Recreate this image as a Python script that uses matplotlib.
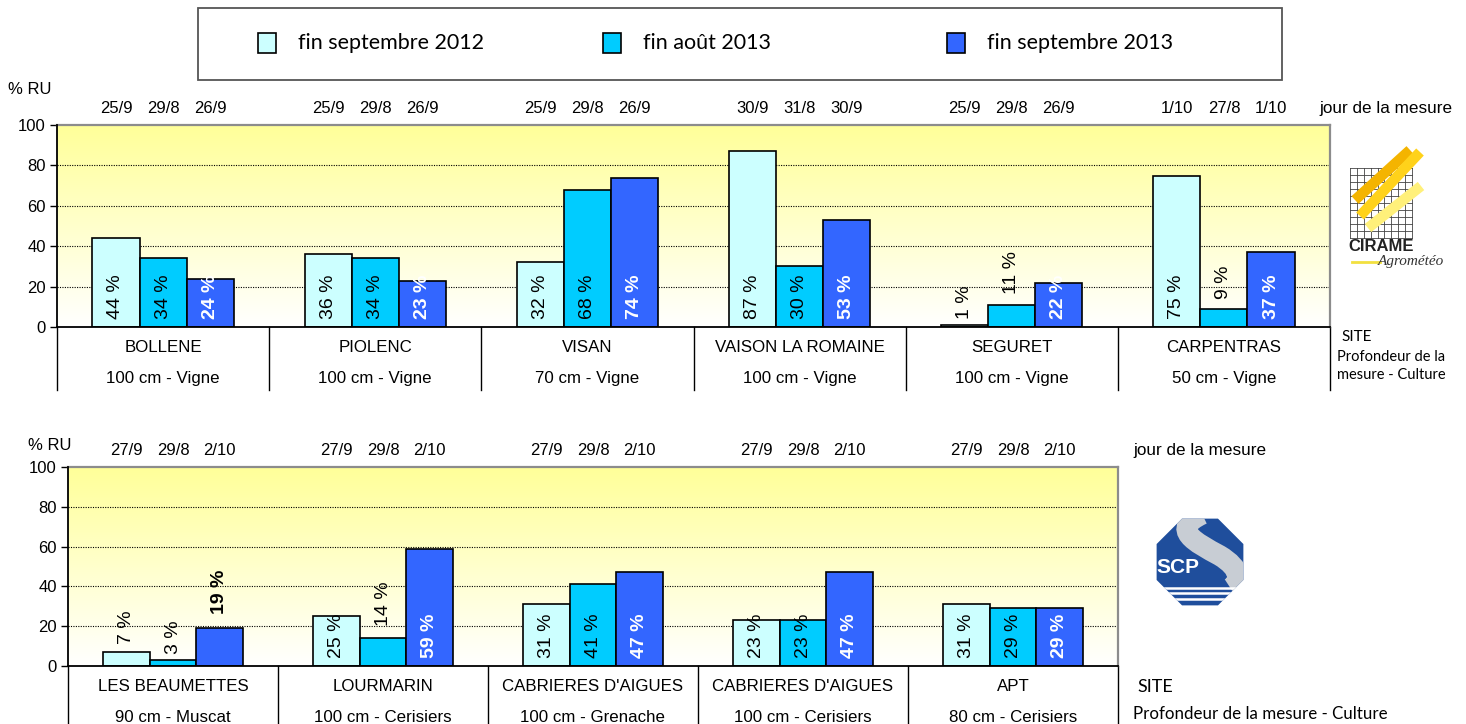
import matplotlib.pyplot as plt
import matplotlib.patches as patches
from matplotlib.colors import LinearSegmentedColormap
from matplotlib.path import Path
import numpy as np

ARIAL = ["Liberation Sans", "DejaVu Sans"]
CALIBRI = ["Lato", "DejaVu Sans"]
plt.rcParams["font.family"] = ARIAL

W, H = 1466, 724

# legend / series
series_names = ["fin septembre 2012", "fin août 2013", "fin septembre 2013"]
series_colors = ["#CCFFFF", "#00CCFF", "#3366FF"]

# top panel (CIRAME)
top_sites = ["BOLLENE", "PIOLENC", "VISAN", "VAISON LA ROMAINE", "SEGURET", "CARPENTRAS"]
top_depths = ["100 cm - Vigne", "100 cm - Vigne", "70 cm - Vigne",
              "100 cm - Vigne", "100 cm - Vigne", "50 cm - Vigne"]
top_sep2012 = [44, 36, 32, 87, 1, 75]
top_aug2013 = [34, 34, 68, 30, 11, 9]
top_sep2013 = [24, 23, 74, 53, 22, 37]
top_dates_sep2012 = ["25/9", "25/9", "25/9", "30/9", "25/9", "1/10"]
top_dates_aug2013 = ["29/8", "29/8", "29/8", "31/8", "29/8", "27/8"]
top_dates_sep2013 = ["26/9", "26/9", "26/9", "30/9", "26/9", "1/10"]

# bottom panel (SCP)
bot_sites = ["LES BEAUMETTES", "LOURMARIN", "CABRIERES D'AIGUES", "CABRIERES D'AIGUES", "APT"]
bot_depths = ["90 cm - Muscat", "100 cm - Cerisiers", "100 cm - Grenache",
              "100 cm - Cerisiers", "80 cm - Cerisiers"]
bot_sep2012 = [7, 25, 31, 23, 31]
bot_aug2013 = [3, 14, 41, 23, 29]
bot_sep2013 = [19, 59, 47, 47, 29]
bot_dates_sep2012 = ["27/9", "27/9", "27/9", "27/9", "27/9"]
bot_dates_aug2013 = ["29/8", "29/8", "29/8", "29/8", "29/8"]
bot_dates_sep2013 = ["2/10", "2/10", "2/10", "2/10", "2/10"]


def px(x, y):
    return x / W, 1 - y / H


def box(x0, y0, x1, y1):
    return [x0 / W, 1 - y1 / H, (x1 - x0) / W, (y1 - y0) / H]


bg_cmap = LinearSegmentedColormap.from_list("bg", ["#FFFFFF", "#FFFF99"])


def draw_panel(ax, sites, depths, values, dates):
    n = len(sites)
    centers = np.arange(n) + 0.5
    w = 0.222
    grad = np.linspace(0, 1, 256).reshape(-1, 1)
    ax.imshow(grad, extent=(0, n, 0, 100), origin="lower", aspect="auto",
              cmap=bg_cmap, zorder=0)
    ax.set_xlim(0, n)
    ax.set_ylim(0, 100)
    for gy in [20, 40, 60, 80]:
        ax.axhline(gy, color="black", lw=0.8, ls=(0, (1, 1.2)), zorder=1)

    for k in range(3):
        xs = centers + (k - 1) * w
        ax.bar(xs, values[k], width=w, color=series_colors[k],
               edgecolor="black", linewidth=1.2, zorder=3)
        for xi, v, d in zip(xs, values[k], dates[k]):
            ax.annotate(d, xy=(xi, 1), xycoords=ax.get_xaxis_transform(),
                        xytext=(0, 12), textcoords="offset points",
                        ha="center", va="center", fontsize=12)
            inside = v >= 20
            y = 4 if inside else v + 2.5 + v * 0.25
            color = "white" if (k == 2 and inside) else "black"
            weight = "bold" if k == 2 else "normal"
            ax.text(xi, y, f"{v} %", rotation=90, ha="center", va="bottom",
                    fontsize=14, color=color, fontweight=weight, zorder=5)

    # multi-level category axis
    tr = ax.get_xaxis_transform()
    for b in range(n + 1):
        ax.plot([b, b], [0, -0.31], transform=tr, color="black", lw=1,
                clip_on=False)
    for c, s, d in zip(centers, sites, depths):
        ax.annotate(s, xy=(c, 0), xycoords=tr, xytext=(0, -15),
                    textcoords="offset points", ha="center", va="center",
                    fontsize=12.2)
        ax.annotate(d, xy=(c, 0), xycoords=tr, xytext=(0, -37),
                    textcoords="offset points", ha="center", va="center",
                    fontsize=12.2)

    ax.set_xticks([])
    ax.set_yticks(range(0, 101, 20))
    ax.tick_params(axis="y", direction="out", length=5, width=1,
                   labelsize=12, pad=3)
    for side in ["top", "right"]:
        ax.spines[side].set_color("#8c8c8c")
        ax.spines[side].set_linewidth(1.6)
    for side in ["left", "bottom"]:
        ax.spines[side].set_color("black")
        ax.spines[side].set_linewidth(1.3)
        ax.spines[side].set_zorder(6)


fig = plt.figure(figsize=(W / 100, H / 100), dpi=100)

ax_top = fig.add_axes(box(57, 125, 1330, 327))
draw_panel(ax_top, top_sites, top_depths,
           [top_sep2012, top_aug2013, top_sep2013],
           [top_dates_sep2012, top_dates_aug2013, top_dates_sep2013])

ax_bot = fig.add_axes(box(68, 467, 1118, 666))
draw_panel(ax_bot, bot_sites, bot_depths,
           [bot_sep2012, bot_aug2013, bot_sep2013],
           [bot_dates_sep2012, bot_dates_aug2013, bot_dates_sep2013])

# legend box
fig.patches.append(patches.Rectangle(px(198, 80), 1084 / W, 72 / H,
                                     transform=fig.transFigure, fill=False,
                                     edgecolor="#555555", lw=1.3))
legend_x = [258, 603, 947]
for lx, name, col in zip(legend_x, series_names, series_colors):
    fig.patches.append(patches.Rectangle(px(lx, 53), 18 / W, 20 / H,
                                         transform=fig.transFigure,
                                         facecolor=col, edgecolor="black",
                                         lw=1.2))
    fig.text(*px(lx + 40, 43), name, ha="left", va="center",
             fontsize=15.5, family=CALIBRI)

# side texts
fig.text(*px(30, 89), "% RU", ha="center", va="center", fontsize=12)
fig.text(*px(50, 446), "% RU", ha="center", va="center", fontsize=12)
fig.text(*px(1319, 108), "jour de la mesure", ha="left", va="center", fontsize=12.3)
fig.text(*px(1133, 450), "jour de la mesure", ha="left", va="center", fontsize=12.3)
fig.text(*px(1341, 337), "SITE", ha="left", va="center", fontsize=11, family=CALIBRI)
fig.text(*px(1337, 357), "Profondeur de la", ha="left", va="center", fontsize=10.5, family=CALIBRI)
fig.text(*px(1337, 375), "mesure - Culture", ha="left", va="center", fontsize=10.5, family=CALIBRI)
fig.text(*px(1137, 687), "SITE", ha="left", va="center", fontsize=13, family=CALIBRI)
fig.text(*px(1133, 714), "Profondeur de la mesure - Culture", ha="left", va="center",
         fontsize=12.2, family=CALIBRI)

# CIRAME logo
lg = fig.add_axes(box(1340, 140, 1450, 275))
lg.set_xlim(1340, 1450)
lg.set_ylim(275, 140)
lg.axis("off")
for gx in np.linspace(1350, 1412, 10):
    lg.plot([gx, gx], [168, 238], color="#444444", lw=0.6)
for gy in np.linspace(168, 238, 11):
    lg.plot([1350, 1412], [gy, gy], color="#444444", lw=0.6)
stripes = [((1355, 200), (1410, 150), "#F4B400"),
           ((1360, 216), (1420, 152), "#FFD21A"),
           ((1368, 228), (1421, 186), "#FFF07A")]
for (x0, y0), (x1, y1), col in stripes:
    lg.plot([x0, x1], [y0, y1], color=col, lw=7.5, solid_capstyle="butt")
lg.text(1348, 247, "CIRAME", ha="left", va="center", fontsize=12,
        fontweight="bold", color="#222222")
lg.plot([1352, 1380], [262, 262], color="#F2E040", lw=2)
lg.text(1378, 262, "Agrométéo", ha="left", va="center", fontsize=11,
        family=["Liberation Serif", "DejaVu Serif"], style="italic", color="#333333")

# SCP logo
sc = fig.add_axes(box(1150, 512, 1250, 612))
sc.set_xlim(-1.15, 1.15)
sc.set_ylim(-1.15, 1.15)
sc.set_aspect("equal")
sc.axis("off")
octo = patches.RegularPolygon((0, 0), 8, radius=1.08, orientation=np.pi / 8,
                              facecolor="#1F4E9C", edgecolor="none")
sc.add_patch(octo)
s_path = Path([(0.05, 1.1), (-0.7, 0.75), (-0.1, 0.45), (0.45, 0.15),
               (0.95, -0.15), (0.95, -0.45), (0.7, -0.6)],
              [Path.MOVETO, Path.CURVE4, Path.CURVE4, Path.CURVE4, Path.CURVE4,
               Path.CURVE4, Path.CURVE4])
s_line = patches.PathPatch(s_path, facecolor="none", edgecolor="#C8CDD4", lw=15)
sc.add_patch(s_line)
s_line.set_clip_path(octo)
for yy in [-0.6, -0.72, -0.84]:
    ln, = sc.plot([-1.2, 1.2], [yy, yy], color="white", lw=1.8)
    ln.set_clip_path(octo)
t = sc.text(-0.5, -0.12, "SCP", ha="center", va="center", fontsize=15,
            fontweight="bold", color="white")
t.set_clip_path(octo)

fig.savefig("out.png", dpi=100)
